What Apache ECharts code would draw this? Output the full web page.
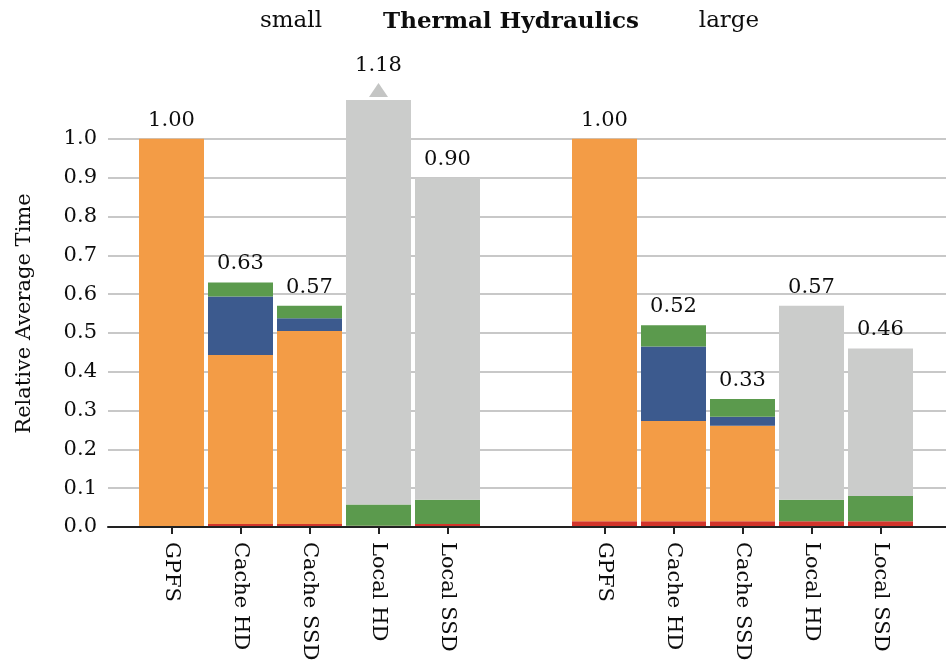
<!DOCTYPE html>
<html>
<head>
<meta charset="utf-8">
<title>Thermal Hydraulics</title>
<script src="https://cdn.jsdelivr.net/npm/echarts@6/dist/echarts.min.js"></script>
<style>
  html, body { margin: 0; padding: 0; background: #fff; }
  #chart { width: 946px; height: 664px; }
</style>
</head>
<body>
<div id="chart"></div>
<script>
// Storage configurations shown in each group
const categories = ['GPFS', 'Cache HD', 'Cache SSD', 'Local HD', 'Local SSD'];
const groupNames = ['small', 'large'];

// Time components (relative to GPFS), stacked bottom to top
const smallRed    = [0.000, 0.008, 0.008, 0.003, 0.008];
const smallOrange = [1.000, 0.435, 0.497, 0.000, 0.000];
const smallBlue   = [0.000, 0.151, 0.033, 0.000, 0.000];
const smallGreen  = [0.000, 0.036, 0.032, 0.055, 0.062];
const smallGray   = [0.000, 0.000, 0.000, 1.122, 0.830];

const largeRed    = [0.015, 0.015, 0.015, 0.015, 0.015];
const largeOrange = [0.985, 0.258, 0.246, 0.000, 0.000];
const largeBlue   = [0.000, 0.192, 0.023, 0.000, 0.000];
const largeGreen  = [0.000, 0.055, 0.046, 0.055, 0.065];
const largeGray   = [0.000, 0.000, 0.000, 0.500, 0.380];

const yTicks = [0.0, 0.1, 0.2, 0.3, 0.4, 0.5, 0.6, 0.7, 0.8, 0.9, 1.0];
const Y_MAX = 1.1;

const COLORS = {
  red: '#d2342b',
  orange: '#f39c46',
  blue: '#3c5a8e',
  green: '#5b9a4d',
  gray: '#cbcccb'
};
const FONT = 'DejaVu Serif';
const TEXT_COLOR = '#0d0d0d';

const groups = [
  { red: smallRed, orange: smallOrange, blue: smallBlue, green: smallGreen, gray: smallGray },
  { red: largeRed, orange: largeOrange, blue: largeBlue, green: largeGreen, gray: largeGray }
];

function totalsOf(g) {
  return categories.map((_, i) =>
    Math.round((g.red[i] + g.orange[i] + g.blue[i] + g.green[i] + g.gray[i]) * 100) / 100);
}

const series = [];
groups.forEach((g, gi) => {
  const axisIdx = gi + 1;
  ['red', 'orange', 'blue', 'green', 'gray'].forEach(key => {
    series.push({
      type: 'bar',
      name: groupNames[gi] + '-' + key,
      xAxisIndex: axisIdx,
      yAxisIndex: axisIdx,
      stack: 'total-' + gi,
      barWidth: 65,
      clip: true,
      itemStyle: { color: COLORS[key] },
      emphasis: { disabled: true },
      data: g[key]
    });
  });
  // Total labels above each stack, with an arrow when the stack overflows the axis
  const totals = totalsOf(g);
  series.push({
    type: 'custom',
    xAxisIndex: axisIdx,
    yAxisIndex: axisIdx,
    clip: false,
    z: 5,
    silent: true,
    data: totals.map((t, i) => [i, t]),
    renderItem: function (params, api) {
      const total = api.value(1);
      const top = api.coord([api.value(0), Math.min(total, Y_MAX)]);
      const children = [];
      let textY = top[1] - 8;
      if (total > Y_MAX) {
        const baseY = top[1] - 3;
        const apexY = baseY - 14;
        children.push({
          type: 'polygon',
          shape: { points: [[top[0] - 9.5, baseY], [top[0] + 9.5, baseY], [top[0], apexY]] },
          style: { fill: '#c4c5c4' }
        });
        textY = apexY - 7;
      }
      children.push({
        type: 'text',
        style: {
          text: total.toFixed(2),
          x: top[0],
          y: textY,
          align: 'center',
          verticalAlign: 'bottom',
          fill: TEXT_COLOR,
          font: '21px "' + FONT + '"'
        }
      });
      return { type: 'group', children: children };
    }
  });
});

const chart = echarts.init(document.getElementById('chart'), null, { renderer: 'canvas' });

const catAxis = (gridIndex) => ({
  type: 'category',
  gridIndex: gridIndex,
  data: categories,
  axisLine: { show: false },
  axisTick: { show: true, alignWithLabel: true, length: 7, lineStyle: { color: '#222', width: 2 } },
  axisLabel: {
    rotate: -90,
    margin: 15,
    color: TEXT_COLOR,
    fontFamily: FONT,
    fontSize: 21
  },
  splitLine: { show: false }
});

const hiddenY = (gridIndex) => ({
  type: 'value',
  gridIndex: gridIndex,
  min: 0,
  max: Y_MAX,
  show: false
});

chart.setOption({
  animation: false,
  backgroundColor: '#fff',
  grid: [
    { left: 108, right: 0, top: 100, bottom: 137 },
    { left: 137, width: 345, top: 100, bottom: 137 },
    { left: 570, width: 345, top: 100, bottom: 137 }
  ],
  xAxis: [
    {
      type: 'value',
      gridIndex: 0,
      min: 0,
      max: 1,
      z: 6,
      axisLine: { show: true, onZero: false, lineStyle: { color: '#222', width: 2 } },
      axisTick: { show: false },
      axisLabel: { show: false },
      splitLine: { show: false }
    },
    catAxis(1),
    catAxis(2)
  ],
  yAxis: [
    {
      type: 'value',
      gridIndex: 0,
      min: 0,
      max: Y_MAX,
      interval: 0.1,
      name: 'Relative Average Time',
      nameLocation: 'middle',
      nameRotate: 90,
      nameGap: 73,
      nameTextStyle: { fontFamily: FONT, fontSize: 21, color: TEXT_COLOR },
      axisLine: { show: false },
      axisTick: { show: false },
      axisLabel: {
        showMaxLabel: false,
        margin: 11,
        color: TEXT_COLOR,
        fontFamily: FONT,
        fontSize: 21,
        formatter: v => {
          const t = yTicks.find(x => Math.abs(x - v) < 1e-6);
          return t === undefined ? '' : t.toFixed(1);
        }
      },
      splitLine: { show: true, showMaxLine: false, lineStyle: { color: '#c8c8c8', width: 2 } }
    },
    hiddenY(1),
    hiddenY(2)
  ],
  graphic: [
    {
      type: 'text', x: 291, y: 21,
      style: { text: groupNames[0], align: 'center', verticalAlign: 'middle', fill: TEXT_COLOR, font: '23px "' + FONT + '"' }
    },
    {
      type: 'text', x: 511, y: 22,
      style: { text: 'Thermal Hydraulics', align: 'center', verticalAlign: 'middle', fill: TEXT_COLOR, font: 'bold 23px "' + FONT + '"' }
    },
    {
      type: 'text', x: 729, y: 21,
      style: { text: groupNames[1], align: 'center', verticalAlign: 'middle', fill: TEXT_COLOR, font: '23px "' + FONT + '"' }
    }
  ],
  series: series
});
</script>
</body>
</html>
